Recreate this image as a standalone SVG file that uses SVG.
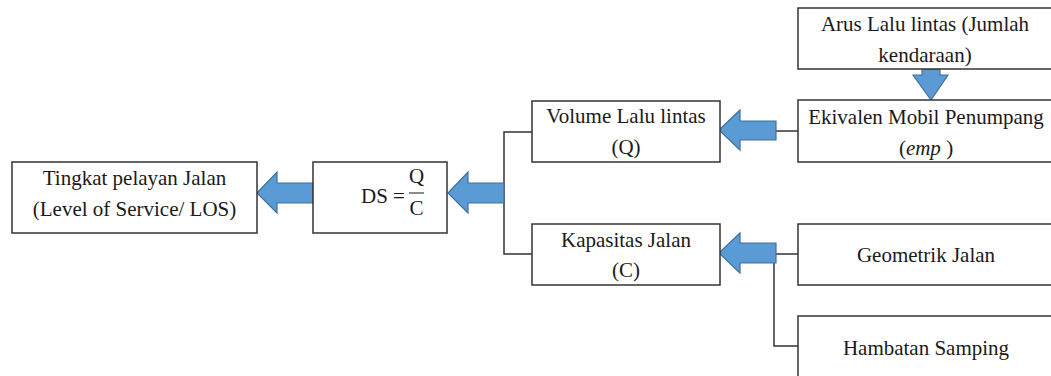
<svg xmlns="http://www.w3.org/2000/svg" width="1051" height="376" viewBox="0 0 1051 376">
<style>
.box{fill:#fff;stroke:#333;stroke-width:1.5}
.t{font-family:"Liberation Serif","Times New Roman",serif;font-size:21px;fill:#1a1a1a;text-anchor:middle}
.arr{fill:#5b9bd5;stroke:#41719c;stroke-width:1.2;stroke-linejoin:miter}
.ln{fill:none;stroke:#333;stroke-width:1.5}
</style>
<rect width="1051" height="376" fill="#fff"/>
<g id="connectors">
<polyline class="ln" points="532,132 504,132 504,254 532,254"/>
<line class="ln" x1="776" y1="131" x2="798" y2="131"/>
<line class="ln" x1="776" y1="254" x2="798" y2="254"/>
<polyline class="ln" points="774,254 774,346 798,346"/>
<polygon class="arr" points="257,193 277,172 277,183 313,183 313,203 277,203 277,213"/>
<polygon class="arr" points="448,193 468,172 468,183 504,183 504,203 468,203 468,213"/>
<polygon class="arr" points="719,130 740,110 740,121 776,121 776,140 740,140 740,150"/>
<polygon class="arr" points="719,253 740,233 740,243 776,243 776,263 740,263 740,273"/>
<polygon class="arr" points="931,100 913,75 922,75 922,69 940,69 940,75 948,75"/>
</g>
<g id="tingkat">
<rect class="box" x="12" y="162" width="245" height="71"/>
<text class="t" x="134.5" y="185">Tingkat pelayan Jalan</text>
<text class="t" x="134.5" y="216">(Level of Service/ LOS)</text>
</g>
<g id="ds">
<rect class="box" x="313" y="162" width="134" height="71"/>
<text class="t" x="383" y="203">DS =</text>
<text class="t" x="416.5" y="183" font-size="21">Q</text>
<line x1="409" y1="193" x2="424" y2="193" stroke="#1a1a1a" stroke-width="1"/>
<text class="t" x="416.5" y="215" font-size="21">C</text>
</g>
<g id="volume">
<rect class="box" x="532" y="101" width="188" height="61"/>
<text class="t" x="626" y="123">Volume Lalu lintas</text>
<text class="t" x="626" y="154">(Q)</text>
</g>
<g id="kapasitas">
<rect class="box" x="532" y="224" width="188" height="61"/>
<text class="t" x="626" y="247">Kapasitas Jalan</text>
<text class="t" x="626" y="277">(C)</text>
</g>
<g id="arus">
<rect class="box" x="798" y="8" width="256" height="61"/>
<text class="t" x="925" y="31">Arus Lalu lintas (Jumlah</text>
<text class="t" x="925" y="62">kendaraan)</text>
</g>
<g id="ekivalen">
<rect class="box" x="798" y="100" width="256" height="62"/>
<text class="t" x="926" y="124">Ekivalen Mobil Penumpang</text>
<text class="t" x="926" y="155">(<tspan font-style="italic">emp</tspan> )</text>
</g>
<g id="geometrik">
<rect class="box" x="798" y="224" width="256" height="61"/>
<text class="t" x="926" y="262">Geometrik Jalan</text>
</g>
<g id="hambatan">
<rect class="box" x="798" y="316" width="256" height="70"/>
<text class="t" x="926" y="355">Hambatan Samping</text>
</g>
</svg>
